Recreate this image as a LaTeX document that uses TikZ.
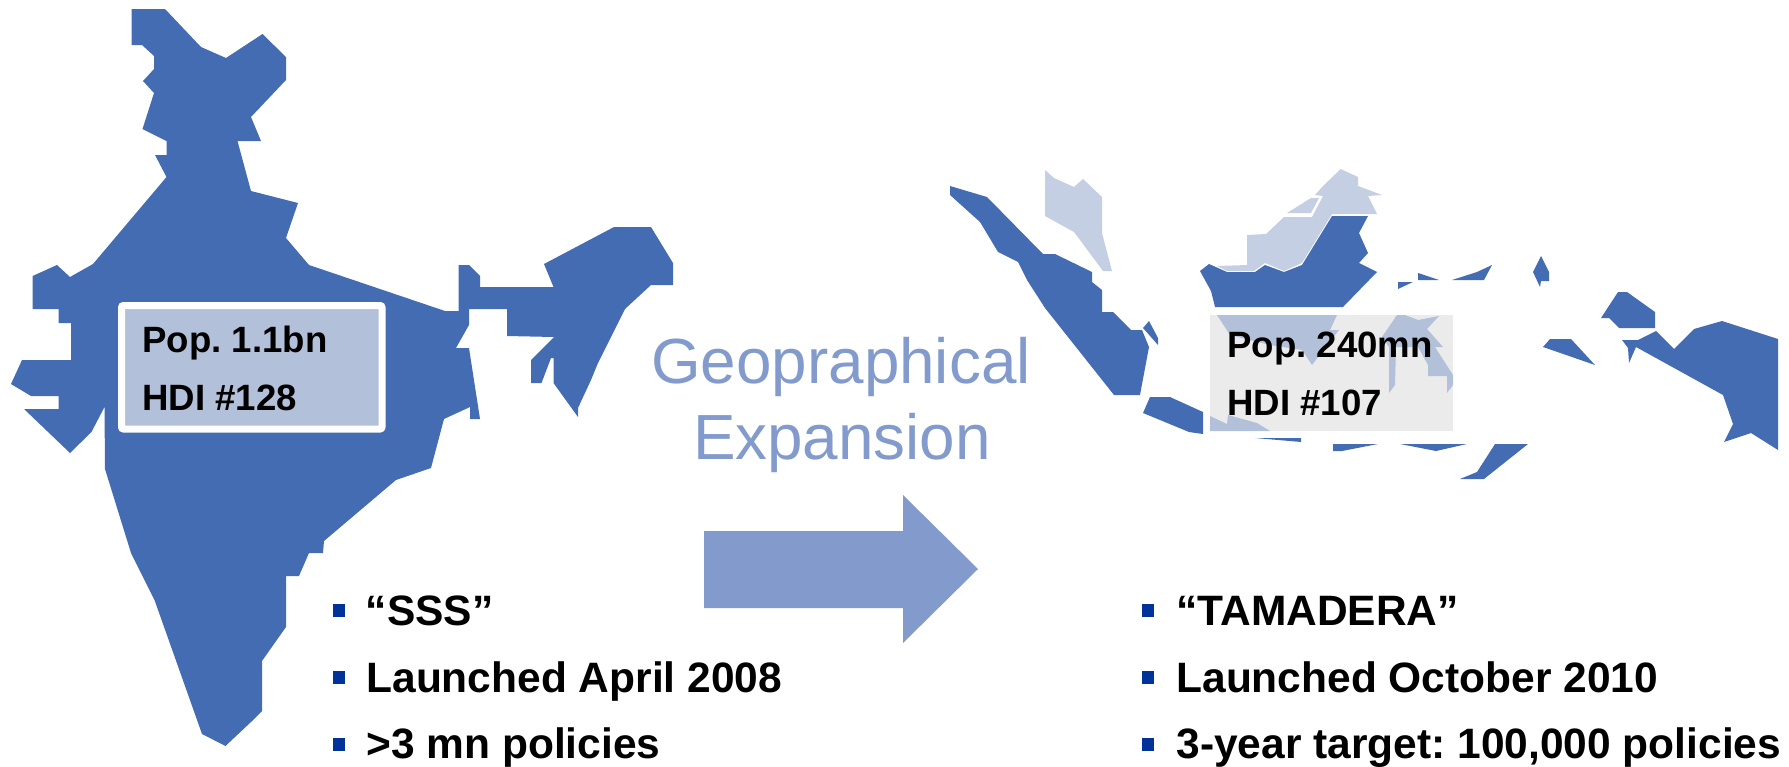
\documentclass[tikz,border=0pt]{standalone}
\usepackage{fontspec}
\setmainfont{Liberation Sans}
\frenchspacing
\definecolor{mapdark}{HTML}{446CB3}
\definecolor{maplight}{HTML}{C5CFE3}
\definecolor{boxblue}{HTML}{B3C0D9}
\definecolor{boxgrey}{HTML}{EBEBEB}
\definecolor{arrowblue}{HTML}{829BCC}
\definecolor{bulletblue}{HTML}{003399}
\tikzset{
  darkland/.style={fill=mapdark,draw=none},
  lightland/.style={fill=maplight,draw=none},
  boxland/.style={fill=boxblue,draw=none},
  infotext/.style={anchor=base west,inner sep=0pt,font=\fontsize{18.3pt}{20pt}\selectfont\bfseries\frenchspacing,text=black},
  listtext/.style={anchor=base west,inner sep=0pt,font=\fontsize{21.25pt}{24pt}\selectfont\bfseries\frenchspacing,text=black},
  headtext/.style={anchor=base,inner sep=0pt,font=\fontsize{31.9pt}{34pt}\selectfont,text=arrowblue},
  bulletmark/.style={fill=bulletblue,draw=none}
}
\begin{document}
\begin{tikzpicture}[x=0.5pt,y=-0.5pt]
\useasboundingbox (0,0) rectangle (1789,766);
% India
\fill[darkland] (131.7,9)--(165,9)--(201,47)--(226,58)--(262.5,34)--(286,57)--(286,80)--(251,117)--(261,141)--(237.5,141)--(251,191)--(298,203)--(286,238)--(309,265)--(445,311)--(458.5,311)--(458.5,265)--(469,265)--(480,276)--(480,287)--(553.5,287)--(544,264)--(614,227)--(651,227)--(673,263)--(673,285)--(651,285)--(625,309)--(598,363)--(591,380)--(578,408)--(578,417)--(553.5,383)--(553.5,358)--(551,358)--(541.5,383)--(531,383)--(531,360)--(554,337)--(507,336)--(507,309)--(469,309)--(469,325)--(456,348)--(469,348)--(480,419)--(470,419)--(470,407)--(444,419)--(431,468)--(396,480)--(324,541)--(323,553)--(309,553)--(299,576)--(286,576)--(286,627)--(262,661)--(262,711)--(251,722)--(225.5,746)--(202,734)--(154.5,600)--(131,553)--(105,469)--(104.5,407)--(91.5,432)--(70,453)--(24,409)--(58.5,409)--(58.5,396)--(31,396)--(11,384)--(22,360)--(71,360)--(71,323)--(58.5,323)--(58.5,309)--(32.6,309)--(32.6,276)--(57,265)--(70,277)--(93,264)--(166.5,177)--(155,155)--(166.5,155)--(166.5,141)--(142.5,129)--(154,93)--(143,81)--(154,69)--(154,56)--(142,45)--(131.7,45)--cycle;
\draw[white,line width=3.5pt,fill=boxblue,rounded corners=1pt] (121.5,305.5) rectangle (382,429);
\node[infotext] (indiapop) at (142,352) {Pop. 1.1bn};
\node[infotext] (indiahdi) at (142,410) {HDI \#128};
% Indonesia: light parts
\fill[lightland] (1045,170)--(1054,178)--(1074,187)--(1083,179)--(1102,197)--(1102,233)--(1112,271)--(1103,271)--(1074,232)--(1045,216)--cycle;
\fill[lightland] (1340.7,169)--(1358,177)--(1358,186)--(1382,195)--(1368,196)--(1377,214)--(1332,214)--(1302,263)--(1284,271)--(1265,263)--(1254,271)--(1227,271)--(1217,266)--(1247,265)--(1247,235)--(1266,234)--(1284,217)--(1312,217)--(1323,196)--(1315,195)--(1323,186)--cycle;
\fill[lightland] (1287,213)--(1311,198)--(1319,198)--(1311,213)--cycle;
% Indonesia: dark parts
\fill[darkland] (950,186)--(987,197)--(1043,254)--(1055,254)--(1092,272)--(1092,282)--(1102,290)--(1102,312)--(1113,312)--(1131,330)--(1142,330)--(1149,347)--(1140,395)--(1114,395)--(1045,308)--(1027,280)--(1018,262)--(998,252)--(980,222)--(950,195)--cycle;
\fill[darkland] (1149,321)--(1158,338)--(1158,345)--(1143,328)--cycle;
\fill[darkland] (1150,397)--(1170,397)--(1203,412)--(1203,434)--(1189,432)--(1143,413)--cycle;
\fill[darkland] (1200,271)--(1209,264)--(1227,272)--(1255,272)--(1265,265)--(1284,272)--(1302,265)--(1332,216)--(1368,216)--(1359,233)--(1368,253)--(1359,263)--(1377,272)--(1343,307)--(1215,307)--(1211,291)--cycle;
\fill[darkland] (1398,282)--(1413,282)--(1398,289)--cycle;
\fill[darkland] (1418,273)--(1439,280)--(1418,280)--cycle;
\fill[darkland] (1492,265)--(1484,280)--(1452,280)--(1477,272)--cycle;
\fill[darkland] (1541,256)--(1549,272)--(1549,281)--(1541,281)--(1540,287)--(1533,272)--cycle;
\fill[darkland] (1618,292)--(1627,292)--(1655,312)--(1655,328)--(1619,328)--(1609,318)--(1601,318)--cycle;
\fill[darkland] (1550,339)--(1571,339)--(1595,365)--(1543,347)--cycle;
\fill[darkland] (1622,340)--(1638,340)--(1656,331)--(1674,349)--(1694,329)--(1722,321)--(1778,339)--(1778,450)--(1751,433)--(1724,442)--(1733,424)--(1723,395)--(1636,347)--(1629,363)--(1628,348)--cycle;
\fill[darkland] (1255,438)--(1301,438)--(1301,442)--cycle;
\fill[darkland] (1333,444)--(1378,444)--(1342,451)--(1333,451)--cycle;
\fill[darkland] (1400,444)--(1467,444)--(1436,451)--cycle;
\fill[darkland] (1495,444)--(1528,444)--(1484,479)--(1460,479)--(1477,472)--cycle;
% Indonesia info box
\fill[boxgrey] (1210,315) rectangle (1453,431);
\fill[boxland] (1217,315)--(1337,315)--(1330,330)--(1339,330)--(1312,365)--(1302,350)--(1270,345)--(1230,335)--cycle;
\fill[boxland] (1397,315)--(1405,315)--(1418,320)--(1439,316)--(1427,329)--(1443,347)--(1435,347)--(1453,375)--(1453,385)--(1447,393)--(1447,376)--(1428,376)--(1428,365)--(1418,347)--(1396,347)--(1395,385)--(1389,393)--(1389,347)--(1382,337)--cycle;
\fill[boxland] (1210,416)--(1227,424)--(1228,415)--(1257,423)--(1270,431)--(1210,431)--cycle;
\node[infotext] (indopop) at (1227,357) {Pop. 240mn};
\node[infotext] (indohdi) at (1227,415) {HDI \#107};
% Centre
\node[headtext] (geo) at (841,383) {Geopraphical};
\node[headtext] (exp) at (842,459) {Expansion};
\fill[arrowblue] (704,531)--(903,531)--(903,495)--(978,569)--(903,643)--(903,608)--(704,608)--cycle;
% Lists
\fill[bulletmark] (332.5,604) rectangle (344.5,617);
\fill[bulletmark] (332.5,671) rectangle (344.5,684);
\fill[bulletmark] (332.5,738) rectangle (344.5,751);
\node[listtext] (l1) at (365.5,625) {“SSS”};
\node[listtext] (l2) at (366,692) {Launched April 2008};
\node[listtext] (l3) at (366,758) {>3 mn policies};
\fill[bulletmark] (1141.5,604) rectangle (1153.5,617);
\fill[bulletmark] (1141.5,671) rectangle (1153.5,684);
\fill[bulletmark] (1141.5,738) rectangle (1153.5,751);
\node[listtext] (r1) at (1176,625) {“TAMADERA”};
\node[listtext] (r2) at (1176,692) {Launched October 2010};
\node[listtext] (r3) at (1176,758) {3-year target: 100,000 policies};
\end{tikzpicture}
\end{document}
